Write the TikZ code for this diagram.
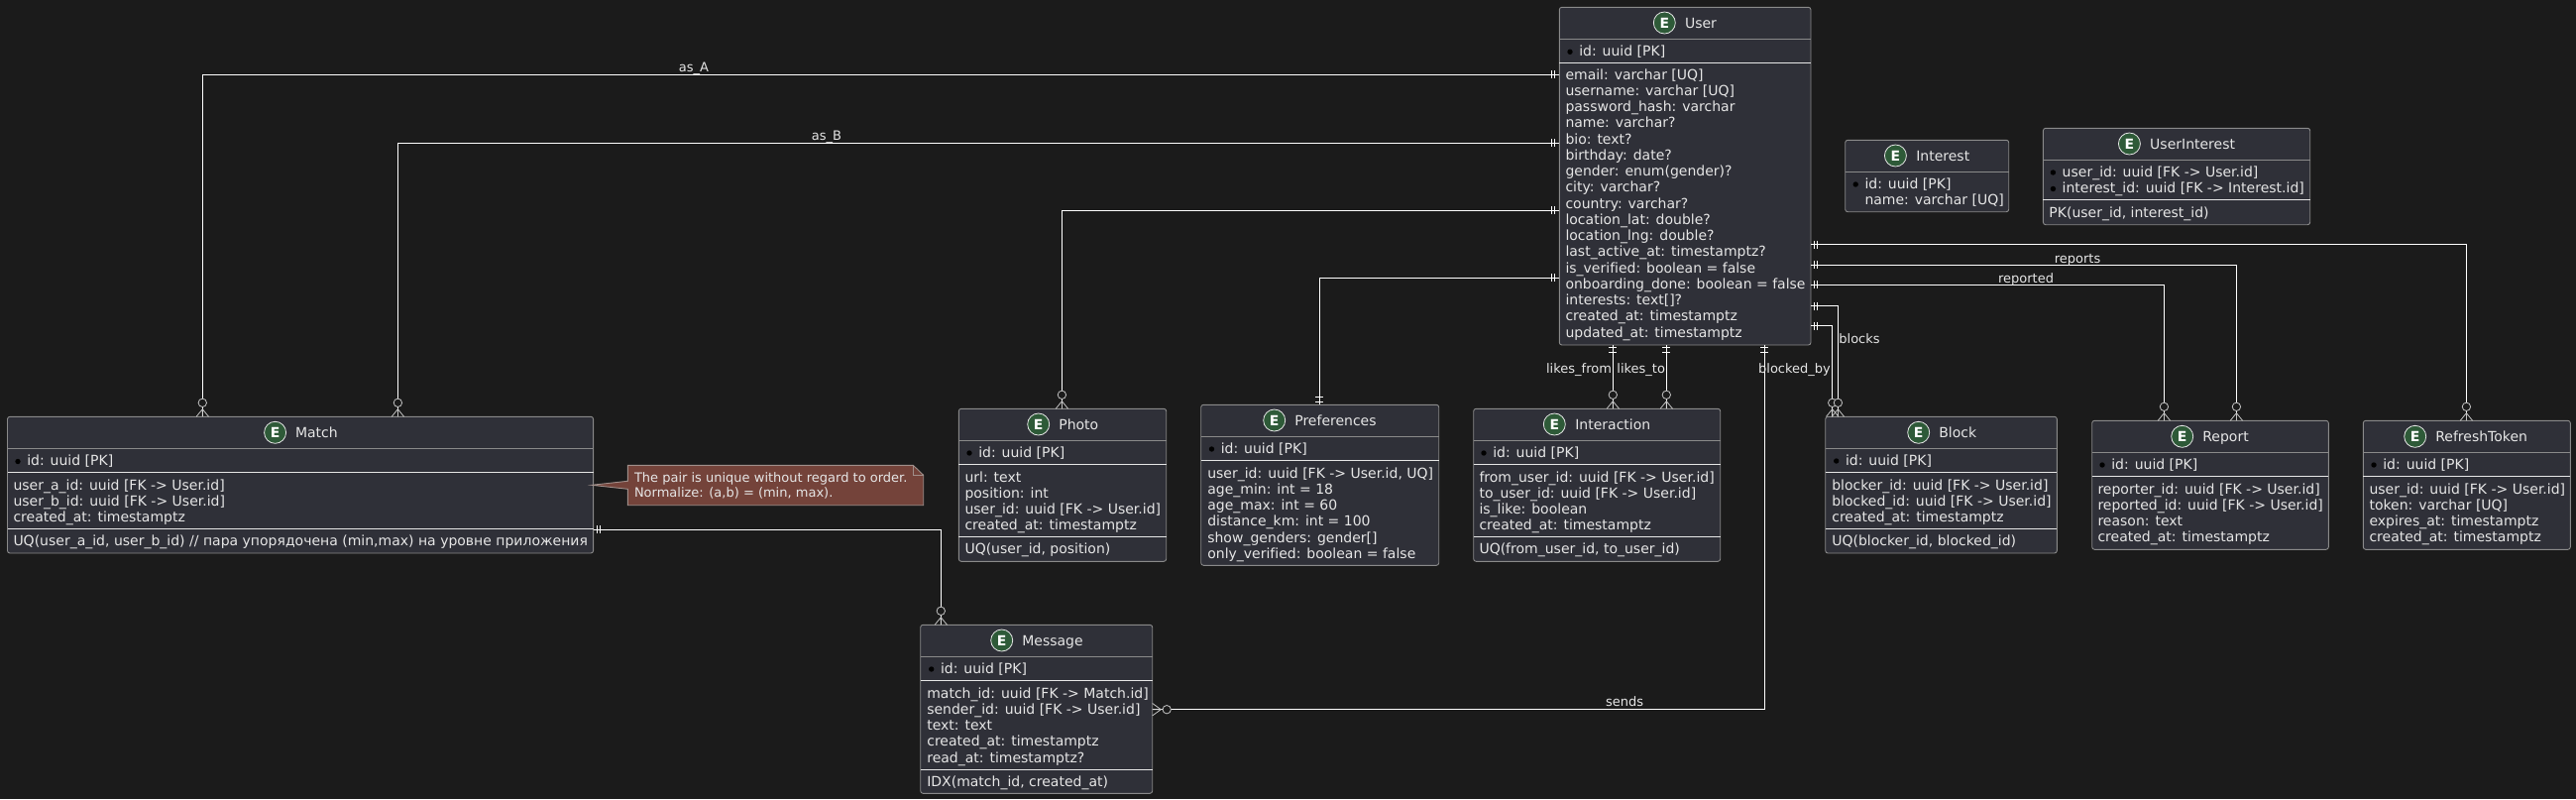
\documentclass[tikz,border=0pt]{standalone}
\usepackage{fontspec}
\setmainfont{DejaVu Sans}[Ligatures=NoCommon]
\definecolor{pagebg}{HTML}{1B1B1B}
\definecolor{boxfill}{HTML}{2F3038}
\definecolor{boxline}{HTML}{8A8A8A}
\definecolor{txt}{HTML}{E6E6E6}
\definecolor{rule}{HTML}{E6E6E6}
\definecolor{enti}{HTML}{2E5A38}
\definecolor{notefill}{HTML}{74433A}
\definecolor{noteline}{HTML}{A08F8A}
\definecolor{tip}{HTML}{C4C4C4}
\newcounter{nn}
\tikzset{
  x=1pt,y=-1pt,
  ent/.style={draw=boxline,fill=boxfill,line width=0.9pt,rounded corners=2.5pt,inner sep=0pt,outer sep=0pt,rectangle,anchor=north west},
  fieldtext/.style={inner sep=0pt,outer sep=0pt,anchor=base west,text=txt,font=\fontsize{14}{16}\selectfont},
  titletext/.style={inner sep=0pt,outer sep=0pt,anchor=base west,text=txt,font=\fontsize{14}{16}\selectfont},
  lbl/.style={inner sep=0pt,outer sep=0pt,anchor=base,text=txt,font=\fontsize{13}{15}\selectfont},
  notetext/.style={inner sep=0pt,outer sep=0pt,anchor=base west,text=txt,font=\fontsize{13}{15}\selectfont},
  emark/.style={circle,draw=rule,fill=enti,line width=0.8pt,minimum size=22pt,inner sep=0pt,text=white,font=\fontsize{14}{14}\bfseries\selectfont},
  dotmark/.style={circle,fill=black,minimum size=5.4pt,inner sep=0pt},
  rel/.style={draw=white,line width=0.9pt},
  barline/.style={draw=white,line width=0.7pt},
  tipline/.style={draw=tip,line width=0.8pt},
}
% name, x1, y1, x2, y2, title, circle x, title x, title y, title-rule y
\newcommand\entbox[9]{%
  \node[ent,minimum width={(#4-#2)*1pt},minimum height={(#5-#3)*1pt}] (#1) at (#2,#3) {};
  \node[emark] (#1E) at (#7,#8) {E};
  \node[titletext] (#1T) at (#9,#8+5) {#6};
}
\newcommand\grule[2]{\draw[boxline,line width=0.9pt] (#1.west |- 0,#2) -- (#1.east |- 0,#2);}
\newcommand\wrule[2]{\draw[rule,line width=0.9pt] (#1.west |- 0,#2) -- (#1.east |- 0,#2);}
\newcommand\fld[3]{\stepcounter{nn}\node[fieldtext] (f\thenn) at (#1,#2+5) {#3};}
\newcommand\pkf[3]{\stepcounter{nn}\node[dotmark] (d\thenn) at (#1,#2+1) {};\node[fieldtext] (f\thenn) at (#1+9.3,#2+5) {#3};}
% crow foot + circle: x, tip y (arriving from above)
\newcommand\manyV[2]{%
  \draw[tipline,fill=pagebg] (#1,#2-14) circle[radius=4.2];
  \draw[tipline] (#1-6.2,#2) -- (#1,#2-7.6) -- (#1+6.2,#2) (#1,#2-7.6) -- (#1,#2);
}
% x, y, first signed offset, second signed offset
\newcommand\onlyH[4]{\draw[barline] (#1+#3,#2-4) -- (#1+#3,#2+4) (#1+#4,#2-4) -- (#1+#4,#2+4);}
\newcommand\onlyV[4]{\draw[barline] (#1-4,#2+#3) -- (#1+4,#2+#3) (#1-4,#2+#4) -- (#1+4,#2+#4);}
\begin{document}
\begin{tikzpicture}
\useasboundingbox (0,0) rectangle (2599,806);
\fill[pagebg] (0,0) rectangle (2599,806);

% ---------- User
\entbox{user}{1573.3}{7.3}{1827}{348}{User}{1679.3}{23}{1700}
\grule{user}{39.5}\wrule{user}{63}
\pkf{1584}{51.3}{id: uuid [PK]}
\fld{1579.5}{75}{email: varchar [UQ]}
\fld{1579.5}{91.3}{username: varchar [UQ]}
\fld{1579.5}{107.5}{password\_hash: varchar}
\fld{1579.5}{123.8}{name: varchar?}
\fld{1579.5}{140}{bio: text?}
\fld{1579.5}{156.3}{birthday: date?}
\fld{1579.5}{172.5}{gender: enum(gender)?}
\fld{1579.5}{188.8}{city: varchar?}
\fld{1579.5}{205}{country: varchar?}
\fld{1579.5}{221.3}{location\_lat: double?}
\fld{1579.5}{237.5}{location\_lng: double?}
\fld{1579.5}{253.8}{last\_active\_at: timestamptz?}
\fld{1579.5}{270}{is\_verified: boolean = false}
\fld{1579.5}{286.3}{onboarding\_done: boolean = false}
\fld{1579.5}{302.5}{interests: text[]?}
\fld{1579.5}{318.8}{created\_at: timestamptz}
\fld{1579.5}{335}{updated\_at: timestamptz}

% ---------- Interest
\entbox{interest}{1861.7}{141.3}{2026.7}{213.7}{Interest}{1912.4}{157}{1933.3}
\grule{interest}{173.3}
\pkf{1872.2}{185}{id: uuid [PK]}
\fld{1881.5}{201.5}{name: varchar [UQ]}

% ---------- UserInterest
\entbox{userint}{2061.4}{129.3}{2330.7}{226.7}{UserInterest}{2148.4}{145}{2169.2}
\grule{userint}{161.3}\wrule{userint}{201.3}
\pkf{2071.4}{173}{user\_id: uuid [FK -> User.id]}
\pkf{2071.4}{189.5}{interest\_id: uuid [FK -> Interest.id]}
\fld{2067.4}{214}{PK(user\_id, interest\_id)}

% ---------- Match
\entbox{match}{7.5}{420.3}{598.6}{558}{Match}{277.6}{436.3}{298}
\grule{match}{452.3}\wrule{match}{476.3}\wrule{match}{533.3}
\pkf{18}{464.5}{id: uuid [PK]}
\fld{13.5}{489}{user\_a\_id: uuid [FK -> User.id]}
\fld{13.5}{505}{user\_b\_id: uuid [FK -> User.id]}
\fld{13.5}{521.3}{created\_at: timestamptz}
\fld{13.5}{545.5}{UQ(user\_a\_id, user\_b\_id) // пара упорядочена (min,max) на уровне приложения}

% ---------- Photo
\entbox{photo}{967.3}{412.3}{1176.7}{566.3}{Photo}{1047.7}{428}{1068.3}
\grule{photo}{444.3}\wrule{photo}{468.3}\wrule{photo}{541.3}
\pkf{978}{456}{id: uuid [PK]}
\fld{973.5}{481}{url: text}
\fld{973.5}{497}{position: int}
\fld{973.5}{513}{user\_id: uuid [FK -> User.id]}
\fld{973.5}{529.5}{created\_at: timestamptz}
\fld{973.5}{553.5}{UQ(user\_id, position)}

% ---------- Preferences
\entbox{prefs}{1211.7}{408.3}{1451.7}{570.3}{Preferences}{1285.7}{424}{1306.3}
\grule{prefs}{440.3}\wrule{prefs}{464.3}
\pkf{1222.5}{452}{id: uuid [PK]}
\fld{1218.3}{477}{user\_id: uuid [FK -> User.id, UQ]}
\fld{1218.3}{493}{age\_min: int = 18}
\fld{1218.3}{509}{age\_max: int = 60}
\fld{1218.3}{525.5}{distance\_km: int = 100}
\fld{1218.3}{542}{show\_genders: gender[]}
\fld{1218.3}{558}{only\_verified: boolean = false}

% ---------- Interaction
\entbox{interaction}{1486.7}{412.3}{1735.7}{566.3}{Interaction}{1568.3}{428}{1589.3}
\grule{interaction}{444.3}\wrule{interaction}{468.3}\wrule{interaction}{541.3}
\pkf{1497}{456}{id: uuid [PK]}
\fld{1492.5}{481}{from\_user\_id: uuid [FK -> User.id]}
\fld{1492.5}{497}{to\_user\_id: uuid [FK -> User.id]}
\fld{1492.5}{513}{is\_like: boolean}
\fld{1492.5}{529.5}{created\_at: timestamptz}
\fld{1492.5}{553.5}{UQ(from\_user\_id, to\_user\_id)}

% ---------- Block
\entbox{block}{1841.7}{420.3}{2075.3}{558}{Block}{1935.7}{436.3}{1956.3}
\grule{block}{452.3}\wrule{block}{476.3}\wrule{block}{533.3}
\pkf{1852.7}{464}{id: uuid [PK]}
\fld{1848.3}{489}{blocker\_id: uuid [FK -> User.id]}
\fld{1848.3}{505}{blocked\_id: uuid [FK -> User.id]}
\fld{1848.3}{521.5}{created\_at: timestamptz}
\fld{1848.3}{545.5}{UQ(blocker\_id, blocked\_id)}

% ---------- Report
\entbox{report}{2110.7}{424.3}{2349.3}{554.3}{Report}{2201.7}{440.3}{2222.3}
\grule{report}{456.3}\wrule{report}{480.3}
\pkf{2121}{468}{id: uuid [PK]}
\fld{2116.5}{493}{reporter\_id: uuid [FK -> User.id]}
\fld{2116.5}{509}{reported\_id: uuid [FK -> User.id]}
\fld{2116.5}{525.5}{reason: text}
\fld{2116.5}{541.5}{created\_at: timestamptz}

% ---------- RefreshToken
\entbox{refresh}{2384.3}{424.3}{2593.3}{554.3}{RefreshToken}{2436.7}{440.3}{2457.3}
\grule{refresh}{456.3}\wrule{refresh}{480.3}
\pkf{2395}{468}{id: uuid [PK]}
\fld{2390.5}{493}{user\_id: uuid [FK -> User.id]}
\fld{2390.5}{509}{token: varchar [UQ]}
\fld{2390.5}{525.5}{expires\_at: timestamptz}
\fld{2390.5}{541.5}{created\_at: timestamptz}

% ---------- Message
\entbox{message}{928.7}{630.3}{1162.7}{800.3}{Message}{1010.7}{646}{1031.3}
\grule{message}{662.3}\wrule{message}{686.3}\wrule{message}{776}
\pkf{939.7}{674}{id: uuid [PK]}
\fld{935.3}{699}{match\_id: uuid [FK -> Match.id]}
\fld{935.3}{715}{sender\_id: uuid [FK -> User.id]}
\fld{935.3}{731}{text: text}
\fld{935.3}{747.5}{created\_at: timestamptz}
\fld{935.3}{764}{read\_at: timestamptz?}
\fld{935.3}{788}{IDX(match\_id, created\_at)}

% ---------- connectors
\draw[rel] (user.west |- 0,75.3) -| (match.north -| 204.3,0);
\draw[rel] (user.west |- 0,144.3) -| (match.north -| 401.4,0);
\draw[rel] (user.west |- 0,212.3) -| (photo.north -| 1071.4,0);
\draw[rel] (user.west |- 0,280.3) -| (prefs.north -| 1331.4,0);
\draw[rel] (user.south -| 1627.3,0) -- (interaction.north -| 1627.3,0);
\draw[rel] (user.south -| 1681.3,0) -- (interaction.north -| 1681.3,0);
\draw[rel] (user.south -| 1780.3,0) |- (message.east |- 0,715.7);
\draw[rel] (user.east |- 0,246.5) -| (refresh.north -| 2488.4,0);
\draw[rel] (user.east |- 0,267.3) -| (report.north -| 2256.4,0);
\draw[rel] (user.east |- 0,287.3) -| (report.north -| 2183.4,0);
\draw[rel] (user.east |- 0,308.7) -| (block.north -| 1854.4,0);
\draw[rel] (user.east |- 0,328.7) -| (block.north -| 1848.7,0);
\draw[rel] (match.east |- 0,534.3) -| (message.north -| 949.3,0);

% ---------- ends
\onlyH{1573.3}{75.3}{-4.5}{-7.7}\onlyH{1573.3}{144.3}{-4.5}{-7.7}\onlyH{1573.3}{212.3}{-4.5}{-7.7}\onlyH{1573.3}{280.3}{-4.5}{-7.7}
\onlyH{1827}{246.5}{3}{6.5}\onlyH{1827}{267.3}{3}{6.5}\onlyH{1827}{287.3}{3}{6.5}\onlyH{1827}{308.7}{3}{6.5}\onlyH{1827}{328.7}{3}{6.5}
\onlyH{598.6}{534.3}{3.7}{7}
\onlyV{1627.3}{348}{2.6}{7.6}\onlyV{1681.3}{348}{2.6}{7.6}\onlyV{1780.3}{348}{2.6}{7.6}
\onlyV{1331.4}{408.3}{-3}{-7.6}
\manyV{204.3}{420.3}\manyV{401.4}{420.3}\manyV{1071.4}{412.3}
\manyV{1627.3}{412.3}\manyV{1681.3}{412.3}
\manyV{1848.7}{420.3}\manyV{1854.4}{420.3}
\manyV{2183.4}{424.3}\manyV{2256.4}{424.3}\manyV{2488.4}{424.3}
\manyV{949.3}{630.3}
% sideways crow foot at Message
\draw[tipline,fill=pagebg] (1177.2,715.7) circle[radius=4.2];
\draw[tipline] (1162.7,709.5) -- (1171.3,715.7) -- (1162.7,721.9) (1162.7,715.7) -- (1171.3,715.7);

% ---------- labels
\node[lbl] (lA) at (700,72) {as\_A};
\node[lbl] (lB) at (834,141) {as\_B};
\node[lbl] (lrep) at (2096,265) {reports};
\node[lbl] (lred) at (2044,285) {reported};
\node[lbl] (lfrom) at (1593,376.3) {likes\_from};
\node[lbl] (lto) at (1655.7,376.3) {likes\_to};
\node[lbl] (lby) at (1810.5,376.5) {blocked\_by};
\node[lbl] (lbl1) at (1876,346.5) {blocks};
\node[lbl] (lsend) at (1639,712) {sends};

% ---------- note
\draw[noteline,fill=notefill,line width=0.9pt] (597,489.3) -- (633.3,485.3) -- (633.3,469.3) -- (921.3,469.3) -- (931.7,479.3) -- (931.7,509.7) -- (633.3,509.7) -- (633.3,493.3) -- cycle;
\draw[noteline,line width=0.9pt] (921.3,469.3) -- (921.3,479.3) -- (931.7,479.3);
\node[notetext] (n1) at (640,486.5) {The pair is unique without regard to order.};
\node[notetext] (n2) at (640,501.5) {Normalize: (a,b) = (min, max).};
\end{tikzpicture}
\end{document}
